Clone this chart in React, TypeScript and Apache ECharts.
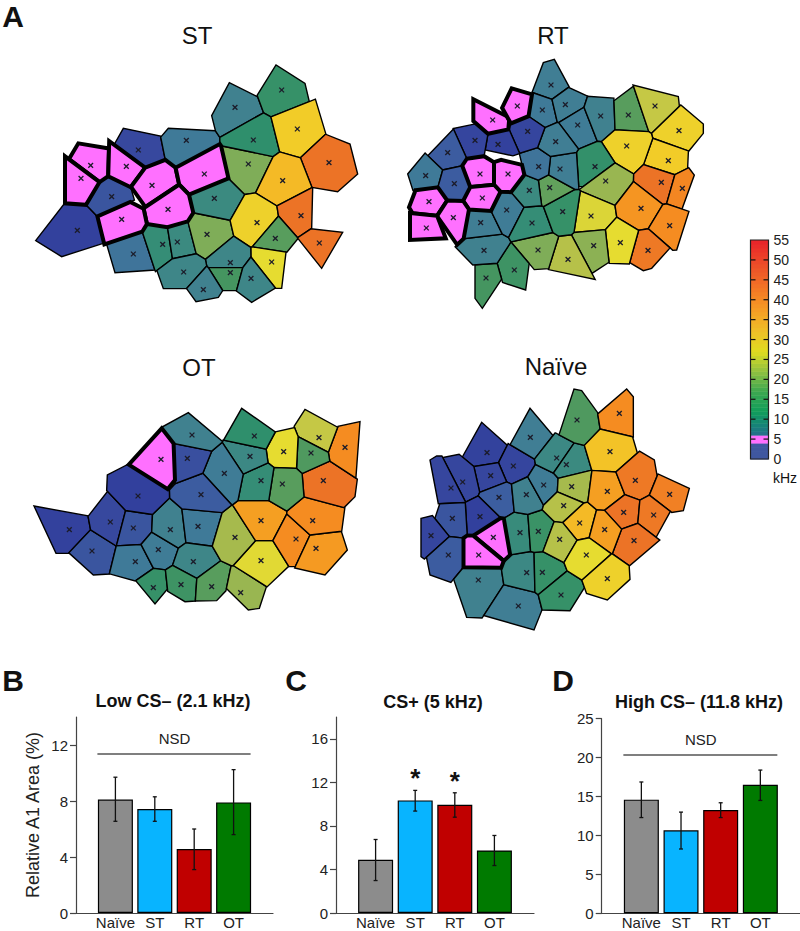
import React, { useEffect, useRef } from "react";
import * as echarts from "echarts";

const FONT = '"Liberation Sans", Arial, sans-serif';

const stCells = [
  [1, 172, 541, 47, 572, 130, 465, 195, 465, 232, 500, 250, 580, 125, 620],
  [3, 275, 440, 240, 392, 262, 382, 335, 420, 335, 450, 232, 495, 200, 462],
  [2, 355, 300, 310, 235, 420, 258, 430, 325, 370, 350, 280, 288],
  [6, 499, 271, 425, 258, 445, 235, 585, 242, 600, 280, 470, 350, 432, 325],
  [5.5, 340, 612, 262, 590, 370, 535, 405, 660, 285, 668],
  [11, 428, 583, 375, 532, 445, 535, 458, 625, 410, 660],
  [10, 472, 576, 445, 535, 505, 518, 525, 605, 458, 625],
  [20, 561, 553, 508, 490, 632, 515, 638, 548, 555, 625, 525, 605],
  [10, 583, 445, 515, 440, 612, 390, 672, 432, 632, 512, 512, 490],
  [20, 685, 342, 610, 292, 752, 320, 712, 432, 675, 432, 622, 385],
  [8, 645, 172, 628, 98, 708, 138, 728, 188, 600, 265, 582, 225, 575, 197],
  [13, 785, 120, 768, 45, 855, 100, 868, 155, 757, 200, 728, 188, 712, 135],
  [12, 700, 270, 600, 268, 728, 190, 755, 205, 778, 318, 610, 290],
  [31, 832, 237, 757, 203, 866, 155, 893, 170, 917, 250, 845, 322, 780, 308],
  [42, 927, 338, 845, 325, 915, 252, 990, 282, 1013, 372, 953, 425, 875, 412],
  [33, 788, 392, 718, 432, 770, 310, 843, 325, 873, 410, 773, 468],
  [30, 711, 518, 680, 435, 712, 432, 773, 470, 773, 495, 703, 592, 640, 555, 633, 512],
  [42, 843, 497, 775, 470, 878, 415, 875, 535, 835, 562, 775, 498],
  [42, 898, 579, 835, 567, 877, 537, 968, 547, 905, 655],
  [17, 766, 565, 775, 500, 832, 568, 802, 605, 705, 590],
  [28, 755, 636, 693, 592, 798, 607, 785, 715, 765, 715, 690, 622],
  [9, 631, 638, 558, 628, 638, 565, 692, 595, 692, 622, 668, 653, 568, 650],
  [9, 491, 666, 410, 660, 460, 625, 525, 612, 558, 630, 500, 716, 430, 716],
  [15, 631, 668, 565, 652, 668, 655, 648, 722, 608, 722],
  [8, 550, 719, 500, 716, 558, 650, 608, 722, 595, 742, 528, 755],
  [9, 693, 685, 668, 655, 692, 622, 765, 715, 695, 757, 648, 722],
  [5, 212, 346, 150, 322, 175, 280, 265, 295, 262, 375, 240, 392],
  [5, 183, 385, 135, 325, 240, 392, 195, 462, 135, 460],
  [5, 319, 349, 275, 290, 362, 350, 330, 405, 265, 378],
  [5, 396, 406, 370, 350, 432, 335, 465, 358, 485, 405, 372, 465, 340, 420],
  [5, 553, 372, 465, 355, 600, 290, 620, 385, 505, 425],
  [5, 444, 478, 378, 470, 475, 412, 505, 440, 515, 500, 475, 520, 430, 528, 380, 518],
  [5, 305, 508, 240, 495, 335, 458, 368, 475, 375, 530, 255, 580],
];

const rtCells = [
  [7, 468, 105, 412, 125, 445, 38, 478, 28, 525, 115, 482, 148],
  [6, 442, 180, 408, 128, 480, 148, 483, 222, 440, 260, 405, 200],
  [7, 511, 164, 482, 148, 527, 115, 570, 135, 568, 168, 485, 222],
  [6.5, 548, 225, 485, 222, 570, 170, 598, 268, 548, 320],
  [8, 617, 198, 570, 138, 665, 145, 655, 235, 618, 268, 598, 265],
  [17, 700, 195, 660, 150, 703, 118, 765, 250, 655, 235],
  [25, 780, 168, 703, 102, 850, 140, 852, 158, 768, 248],
  [30, 852, 242, 852, 160, 925, 222, 925, 250, 880, 305, 768, 278, 768, 248],
  [31, 820, 332, 768, 280, 880, 308, 878, 352, 842, 378, 745, 345],
  [30, 695, 288, 618, 268, 655, 238, 762, 252, 765, 275, 720, 367, 655, 340],
  [12.5, 600, 350, 548, 322, 600, 268, 620, 270, 655, 342, 565, 410, 545, 410],
  [22, 632, 393, 565, 412, 655, 345, 715, 372, 705, 400, 665, 495],
  [27, 588, 498, 545, 415, 663, 498, 638, 538, 528, 545],
  [42, 799, 397, 720, 368, 745, 348, 840, 378, 825, 463],
  [39, 862, 415, 845, 378, 885, 358, 898, 375, 860, 480, 828, 463],
  [37, 738, 475, 715, 378, 808, 465, 768, 530, 720, 530, 672, 498, 705, 405],
  [38, 824, 527, 808, 465, 880, 490, 845, 600, 815, 603, 768, 530],
  [41, 759, 601, 720, 532, 768, 532, 815, 605, 770, 655, 745, 662, 713, 643],
  [28, 676, 578, 665, 500, 720, 530, 712, 642, 640, 640, 637, 538],
  [21, 596, 587, 530, 545, 637, 538, 637, 640, 588, 672],
  [24, 519, 628, 482, 553, 530, 545, 585, 685, 490, 665, 478, 640],
  [20, 429, 600, 348, 572, 375, 560, 482, 553, 475, 655, 400, 660],
  [14, 358, 660, 347, 578, 400, 660, 392, 720, 315, 695],
  [15, 273, 684, 240, 655, 315, 643, 315, 695, 262, 775, 240, 745],
  [8, 267, 601, 180, 590, 205, 565, 320, 560, 345, 572, 315, 640, 240, 652],
  [7, 257, 518, 218, 485, 295, 480, 320, 558, 208, 562],
  [6.5, 335, 480, 305, 415, 365, 405, 385, 480, 350, 570, 325, 560, 295, 480],
  [11, 411, 519, 385, 485, 430, 465, 460, 478, 482, 553, 350, 565],
  [13, 503, 485, 460, 475, 513, 415, 540, 412, 528, 542, 482, 553],
  [18, 464, 413, 440, 398, 480, 388, 513, 412, 460, 475, 437, 462],
  [10, 403, 421, 380, 398, 438, 392, 437, 462, 387, 480, 360, 405],
  [7, 495, 357, 462, 302, 545, 322, 540, 408, 515, 410, 462, 385],
  [5.5, 431, 350, 395, 288, 428, 272, 458, 303, 460, 388, 440, 392, 380, 392, 382, 310],
  [7, 482, 275, 440, 268, 485, 230, 545, 268, 545, 320, 460, 300],
  [1.5, 398, 244, 328, 235, 395, 198, 440, 262, 392, 290],
  [1, 309, 283, 275, 272, 328, 240, 392, 290, 375, 322, 282, 302],
  [1.5, 240, 271, 162, 238, 225, 225, 270, 262, 275, 305, 222, 345],
  [3.5, 158, 308, 105, 310, 158, 255, 222, 310, 210, 350, 125, 335],
  [6, 92, 377, 38, 372, 88, 312, 125, 340, 125, 420, 55, 425],
  [3.5, 178, 401, 128, 338, 208, 352, 208, 420, 195, 440, 128, 430],
  [5, 293, 210, 235, 148, 318, 190, 315, 225, 272, 262, 235, 222],
  [5, 367, 168, 322, 172, 350, 115, 400, 130, 392, 198, 322, 208],
  [5, 255, 372, 215, 350, 272, 310, 290, 330, 292, 408, 213, 412],
  [5, 339, 372, 300, 325, 362, 340, 378, 380, 362, 405, 305, 410],
  [5, 262, 444, 212, 425, 295, 420, 292, 470, 218, 480],
  [5, 102, 455, 42, 472, 60, 425, 133, 422, 125, 490, 48, 482],
  [5, 175, 503, 140, 425, 195, 435, 212, 485, 205, 548, 180, 575, 145, 525],
  [5, 94, 534, 45, 497, 125, 495, 148, 565, 45, 570],
];

const otCells = [
  [1, 148, 389, 42, 318, 205, 348, 212, 390, 148, 460, 108, 460],
  [3, 216, 453, 148, 460, 210, 393, 290, 435, 270, 522, 220, 525],
  [2, 271, 366, 205, 348, 262, 275, 318, 332, 290, 435, 212, 390],
  [3, 340, 384, 318, 335, 398, 345, 395, 398, 362, 435, 290, 435],
  [6, 346, 485, 290, 437, 362, 435, 397, 510, 345, 543, 270, 522],
  [6.5, 415, 449, 365, 433, 397, 400, 470, 452, 460, 495, 430, 510, 398, 508],
  [8, 451, 389, 398, 345, 450, 300, 490, 330, 495, 432, 470, 452, 398, 400],
  [6, 534, 379, 490, 330, 600, 338, 577, 438, 497, 432],
  [9, 520, 485, 462, 495, 497, 435, 577, 438, 600, 480, 530, 532],
  [13, 400, 563, 348, 543, 400, 508, 438, 508, 440, 570, 405, 612],
  [14, 483, 554, 438, 505, 530, 532, 528, 603, 495, 605, 440, 572],
  [17, 575, 560, 528, 535, 600, 483, 633, 497, 622, 568, 590, 602, 530, 603],
  [22, 662, 578, 632, 500, 740, 558, 718, 625, 685, 630, 622, 568],
  [27.5, 723, 482, 645, 492, 703, 423, 760, 423, 805, 500, 745, 557],
  [23, 645, 412, 578, 438, 607, 345, 635, 318, 700, 420, 640, 492, 600, 482],
  [36, 723, 362, 640, 315, 655, 303, 748, 302, 800, 340, 760, 420, 705, 420],
  [38, 828, 417, 760, 420, 800, 345, 868, 405, 825, 500, 808, 500],
  [36.5, 888, 445, 870, 405, 965, 397, 982, 450, 915, 525, 828, 505],
  [38, 878, 362, 802, 340, 850, 295, 975, 320, 965, 395, 868, 402],
  [42, 910, 242, 848, 220, 930, 187, 1012, 237, 1005, 290, 975, 320, 850, 292],
  [38, 975, 142, 930, 185, 950, 80, 1020, 65, 1008, 230],
  [25, 897, 113, 825, 75, 855, 28, 950, 80, 928, 152, 835, 112],
  [16, 873, 159, 835, 115, 928, 155, 930, 185, 862, 218, 832, 203],
  [28, 791, 155, 742, 150, 768, 95, 825, 82, 835, 120, 832, 203, 762, 202],
  [17, 787, 252, 760, 203, 832, 205, 850, 225, 850, 295, 800, 332, 748, 302],
  [11, 723, 242, 680, 218, 745, 190, 760, 205, 748, 300, 655, 302],
  [9.5, 690, 169, 610, 122, 738, 147, 745, 188, 675, 218],
  [12, 703, 108, 612, 118, 665, 25, 765, 95, 740, 147],
  [6.5, 613, 220, 550, 218, 577, 150, 608, 125, 668, 215, 650, 300, 632, 312],
  [3.5, 543, 284, 450, 275, 548, 222, 625, 310, 605, 335, 490, 328],
  [2.5, 502, 175, 468, 130, 575, 150, 548, 218, 470, 245],
  [8, 516, 105, 428, 80, 505, 38, 605, 122, 575, 150, 465, 130],
  [0.8, 354, 288, 262, 225, 320, 195, 445, 270, 395, 340, 320, 330, 260, 270],
  [5, 423, 178, 330, 190, 425, 85, 458, 130, 465, 240, 445, 265],
];

const naiveCells = [
  [1.2, 231, 218, 162, 222, 215, 127, 282, 187, 270, 243, 198, 262],
  [1.5, 310, 258, 285, 188, 305, 187, 375, 245, 360, 290, 305, 315, 272, 245],
  [1.7, 242, 287, 198, 262, 270, 248, 280, 305, 215, 340, 205, 340],
  [1.7, 158, 306, 112, 230, 162, 220, 200, 265, 205, 340, 165, 365],
  [1.7, 123, 324, 60, 240, 80, 228, 112, 228, 162, 367, 85, 372],
  [3.7, 267, 352, 215, 342, 305, 308, 310, 395, 255, 405],
  [0.8, 210, 410, 170, 370, 215, 345, 255, 405, 200, 465, 170, 470],
  [3, 127, 415, 88, 375, 168, 370, 170, 465, 110, 470, 78, 405],
  [1.5, 63, 467, 33, 415, 75, 405, 108, 468, 50, 542, 33, 530],
  [3.5, 115, 525, 52, 545, 110, 472, 155, 472, 158, 565, 130, 610, 60, 585],
  [8, 205, 600, 135, 610, 158, 570, 275, 570, 278, 610, 235, 715, 170, 712],
  [7, 325, 678, 240, 712, 278, 610, 388, 652, 392, 700, 372, 750],
  [9.5, 350, 578, 280, 560, 300, 530, 372, 518, 375, 650, 282, 605],
  [13, 397, 577, 375, 518, 408, 515, 465, 560, 385, 650],
  [13, 453, 645, 392, 652, 465, 565, 522, 625, 480, 692, 395, 690],
  [10.5, 330, 458, 292, 400, 358, 392, 358, 515, 300, 525],
  [13.5, 385, 454, 358, 395, 400, 388, 427, 428, 410, 515, 360, 515],
  [8, 349, 344, 310, 318, 360, 290, 395, 380, 358, 390, 312, 395],
  [6.5, 401, 315, 362, 280, 375, 248, 442, 292, 440, 335, 405, 382],
  [7, 361, 172, 305, 185, 360, 85, 422, 158, 378, 240],
  [9.5, 440, 234, 385, 240, 422, 160, 450, 158, 482, 190, 445, 290],
  [10, 469, 254, 445, 290, 482, 192, 528, 198, 540, 265],
  [16, 501, 120, 450, 155, 492, 27, 515, 32, 563, 98, 565, 150, 528, 198],
  [38, 628, 100, 565, 100, 650, 27, 670, 50, 670, 175, 570, 145],
  [32, 600, 215, 530, 200, 570, 148, 670, 178, 678, 205, 625, 272, 542, 265],
  [23, 485, 320, 445, 295, 540, 270, 535, 358, 495, 367],
  [24, 461, 377, 405, 382, 440, 320, 505, 370, 472, 425, 430, 425],
  [33, 509, 429, 470, 430, 510, 378, 532, 365, 552, 390, 545, 470, 495, 480],
  [36, 592, 334, 542, 272, 625, 275, 637, 340, 595, 388, 552, 390],
  [41, 676, 301, 628, 272, 678, 207, 733, 240, 740, 280, 722, 340, 690, 362, 640, 340],
  [40, 779, 343, 740, 280, 838, 325, 820, 392, 780, 398, 725, 345],
  [42, 641, 397, 597, 392, 640, 345, 688, 365, 685, 425, 640, 448],
  [41, 731, 405, 690, 368, 725, 345, 778, 400, 735, 478, 685, 425],
  [42, 672, 482, 620, 518, 640, 450, 685, 428, 738, 490, 658, 558],
  [36, 584, 449, 550, 392, 595, 392, 632, 448, 612, 520, 590, 518, 548, 472],
  [24, 449, 478, 410, 515, 428, 425, 470, 432, 495, 483, 465, 555],
  [28, 529, 525, 468, 555, 498, 485, 545, 475, 587, 520, 525, 605],
  [30, 592, 596, 525, 607, 590, 525, 612, 522, 658, 565, 660, 598, 592, 660, 545, 645],
  [5, 250, 472, 205, 465, 280, 415, 300, 520, 275, 555],
  [5, 206, 525, 165, 475, 200, 470, 270, 555, 160, 560],
];

const cellStops = [
  [0, "#2E3A9C"], [2, "#37489E"], [4, "#3D62A0"], [6, "#3F7A98"], [8, "#40818F"], [10, "#3B8A80"],
  [12, "#2F8F6C"], [15, "#459560"], [18, "#62A15C"], [20, "#7FAD58"], [23, "#A6BA4D"], [25, "#C5C845"],
  [28, "#E6DC30"], [31, "#F2CC28"], [35, "#F5A823"], [38, "#F58C21"], [42, "#EC7326"], [48, "#E84E28"], [55, "#E3202A"],
] as [number, string][];
const barStops = [
  [0, "#3F57A0"], [4, "#3F57A0"], [6, "#2A6E8C"], [8, "#177F7C"], [12, "#109E5A"], [17, "#3DA850"], [22, "#90C040"],
  [27, "#E0DC20"], [32, "#EEC028"], [37, "#F5A025"], [42, "#F47C25"], [47, "#EE5A28"], [55, "#E8222A"],
] as [number, string][];
const MAGENTA = "#FF70FF";

const colorbarBands = Array.from({ length: 55 }, (_, i) => i);
const colorbarTicks = [0, 5, 10, 15, 20, 25, 30, 35, 40, 45, 50, 55];

const groupNames = ["Naïve", "ST", "RT", "OT"];
const categories = ["", ...groupNames, ""];
const barColors = ["#8C8C8C", "#08B4FF", "#C00000", "#007A00"];

const lowValues = [8.1, 7.43, 4.57, 7.9];
const lowErrLow = [6.55, 6.55, 3.1, 5.6];
const lowErrHigh = [9.7, 8.3, 6.0, 10.24];
const lowTicks = [0, 4, 8, 12];

const csValues = [4.88, 10.34, 9.94, 5.74];
const csErrLow = [2.98, 9.36, 8.8, 4.36];
const csErrHigh = [6.75, 11.26, 11.04, 7.12];
const csTicks = [0, 4, 8, 12, 16];
const csStars = [[2, 12.42], [3, 12.12]];

const highValues = [14.6, 10.66, 13.27, 16.5];
const highErrLow = [12.3, 8.26, 12.3, 14.5];
const highErrHigh = [16.87, 13.0, 14.2, 18.4];
const highTicks = [0, 5, 10, 15, 20, 25];

type P = number[];

// The maps are Voronoi cells around the crosses: neighbouring cells share the bisector of their two
// crosses, and only the outer edges keep the outline.
function clipHalf(poly: P[], a: number, b: number, c: number) {
  const out: P[] = [];
  for (let i = 0; i < poly.length; i++) {
    const p = poly[i];
    const q = poly[(i + 1) % poly.length];
    const dp = a * p[0] + b * p[1] - c;
    const dq = a * q[0] + b * q[1] - c;
    if (dp <= 0) out.push(p);
    if (dp < 0 !== dq < 0) {
      const t = dp / (dp - dq);
      out.push([p[0] + (q[0] - p[0]) * t, p[1] + (q[1] - p[1]) * t]);
    }
  }
  return out;
}
function outline(c: number[]) {
  const pts: P[] = [];
  for (let i = 3; i < c.length; i += 2) pts.push([c[i], c[i + 1]]);
  return pts;
}
function segDist(p: P, a: P, b: P) {
  const dx = b[0] - a[0];
  const dy = b[1] - a[1];
  const t = Math.max(0, Math.min(1, ((p[0] - a[0]) * dx + (p[1] - a[1]) * dy) / (dx * dx + dy * dy || 1)));
  return Math.hypot(p[0] - a[0] - t * dx, p[1] - a[1] - t * dy);
}
function tessellate(cells: number[][]) {
  const outlines = cells.map(outline);
  const OUTER_TOL = 16;
  const PUSH = 26;
  return cells.map((c, i) => {
    const s = [c[1], c[2]];
    let poly: P[] = [[-500, -500], [2000, -500], [2000, 2000], [-500, 2000]];
    cells.forEach((o, j) => {
      if (j === i) return;
      const a = o[1] - s[0];
      const b = o[2] - s[1];
      poly = clipHalf(poly, a, b, (a * (o[1] + s[0]) + b * (o[2] + s[1])) / 2);
    });
    const own = outlines[i];
    own.forEach((p, k) => {
      const q = own[(k + 1) % own.length];
      const m = [(p[0] + q[0]) / 2, (p[1] + q[1]) / 2];
      const tol = Math.min(OUTER_TOL, 0.45 * Math.hypot(q[0] - p[0], q[1] - p[1]));
      const isOuter = outlines.every((ol, j) => {
        if (j === i) return true;
        return ol.every((u, n) => segDist(m, u, ol[(n + 1) % ol.length]) > tol);
      });
      let nx = q[1] - p[1];
      let ny = p[0] - q[0];
      const len = Math.hypot(nx, ny) || 1;
      nx /= len;
      ny /= len;
      if (nx * (s[0] - p[0]) + ny * (s[1] - p[1]) > 0) {
        nx = -nx;
        ny = -ny;
      }
      const off = nx * p[0] + ny * p[1] + (isOuter ? 0 : PUSH);
      poly = clipHalf(poly, nx, ny, off);
    });
    return poly;
  });
}

function hex(c: string) {
  return [1, 3, 5].map((i) => parseInt(c.slice(i, i + 2), 16));
}
function colorAt(stops: [number, string][], f: number) {
  for (let i = 1; i < stops.length; i++) {
    if (f <= stops[i][0]) {
      const [a, ca] = stops[i - 1];
      const [b, cb] = stops[i];
      const t = (f - a) / (b - a);
      const A = hex(ca);
      const B = hex(cb);
      return `rgb(${A.map((v, k) => Math.round(v + (B[k] - v) * t)).join(",")})`;
    }
  }
  return stops[stops.length - 1][1];
}

const mapSeries = (cells: number[][], idx: number) => {
  const polys = tessellate(cells);
  return {
    type: "custom",
    xAxisIndex: idx,
    yAxisIndex: idx,
    clip: false,
    silent: true,
    data: cells.map((c) => [c[1], c[2], c[0]]),
    encode: { x: 0, y: 1 },
    renderItem: (params: any, api: any) => {
      const pts = polys[params.dataIndex].map((p) => api.coord(p));
      const [cx, cy] = api.coord([api.value(0), api.value(1)]);
      const hot = api.value(2) === 5;
      const r = 2.4;
      const cross = { stroke: "#1c1c2a", lineWidth: 1.3 };
      return {
        type: "group",
        children: [
          {
            type: "polygon",
            z2: hot ? 10 : 1,
            shape: { points: pts },
            style: {
              fill: hot ? MAGENTA : colorAt(cellStops, api.value(2)),
              stroke: "#000",
              lineWidth: hot ? 4 : 1.4,
              lineJoin: "miter",
            },
          },
          { type: "line", z2: 11, shape: { x1: cx - r, y1: cy - r, x2: cx + r, y2: cy + r }, style: cross },
          { type: "line", z2: 11, shape: { x1: cx - r, y1: cy + r, x2: cx + r, y2: cy - r }, style: cross },
        ],
      };
    },
  };
};

function barPanel(
  idx: number,
  values: number[],
  lo: number[],
  hi: number[],
  nsd: number | null,
  stars: number[][]
) {
  const out: any[] = [
    {
      type: "bar",
      xAxisIndex: idx,
      yAxisIndex: idx,
      barWidth: 35,
      silent: true,
      data: values.map((v, i) => ({
        value: [i + 1, v],
        itemStyle: { color: barColors[i], borderColor: "#000", borderWidth: 1.2 },
      })),
    },
    {
      type: "custom",
      xAxisIndex: idx,
      yAxisIndex: idx,
      silent: true,
      z: 5,
      data: values.map((_, i) => [i + 1, lo[i], hi[i]]),
      encode: { x: 0, y: [1, 2] },
      renderItem: (_p: any, api: any) => {
        const a = api.coord([api.value(0), api.value(1)]);
        const b = api.coord([api.value(0), api.value(2)]);
        const s = { stroke: "#111", lineWidth: 1.3 };
        return {
          type: "group",
          children: [
            { type: "line", shape: { x1: a[0], y1: a[1], x2: b[0], y2: b[1] }, style: s },
            { type: "line", shape: { x1: a[0] - 2, y1: a[1], x2: a[0] + 2, y2: a[1] }, style: s },
            { type: "line", shape: { x1: b[0] - 2, y1: b[1], x2: b[0] + 2, y2: b[1] }, style: s },
          ],
        };
      },
    },
  ];
  if (nsd !== null) {
    out.push({
      type: "custom",
      xAxisIndex: idx,
      yAxisIndex: idx,
      silent: true,
      data: [[1, nsd, 4]],
      encode: { x: [0, 2], y: 1 },
      renderItem: (_p: any, api: any) => {
        const a = api.coord([api.value(0), api.value(1)]);
        const b = api.coord([api.value(2), api.value(1)]);
        return {
          type: "group",
          children: [
            {
              type: "line",
              shape: { x1: a[0] - 18, y1: a[1], x2: b[0] + 17, y2: b[1] },
              style: { stroke: "#555", lineWidth: 1.5 },
            },
            {
              type: "text",
              x: (a[0] + b[0]) / 2,
              y: a[1] - 15,
              style: { text: "NSD", fontSize: 15, fontFamily: FONT, fill: "#222", align: "center", verticalAlign: "middle" },
            },
          ],
        };
      },
    });
  }
  if (stars.length) {
    out.push({
      type: "custom",
      xAxisIndex: idx,
      yAxisIndex: idx,
      silent: true,
      data: stars,
      encode: { x: 0, y: 1 },
      renderItem: (_p: any, api: any) => {
        const a = api.coord([api.value(0), api.value(1)]);
        return {
          type: "text",
          x: a[0],
          y: a[1],
          style: { text: "*", fontSize: 26, fontWeight: "bold", fontFamily: FONT, fill: "#111", align: "center", verticalAlign: "middle" },
        };
      },
    });
  }
  return out;
}

const label = (text: string, x: number, y: number, fontSize: number, bold = false) => ({
  type: "text",
  x,
  y,
  style: {
    text,
    fontSize,
    fontWeight: bold ? "bold" : "normal",
    fontFamily: FONT,
    fill: "#111",
    align: "center",
    verticalAlign: "middle",
  },
});

export default function App() {
  const ref = useRef<HTMLDivElement>(null);
  useEffect(() => {
    document.body.style.margin = "0";
    const chart = echarts.init(ref.current!, undefined, { renderer: "svg" });

    const mapGrids = [
      { left: 20, top: 50, width: 350, height: 270 },
      { left: 395, top: 50, width: 320, height: 270 },
      { left: 20, top: 400, width: 350, height: 230 },
      { left: 410, top: 380, width: 320, height: 260 },
    ];
    const cbGrid = { left: 750.5, top: 240, width: 18, height: 219 };
    const barGrids = [
      { left: 76, top: 717, width: 197, height: 196 },
      { left: 336, top: 717, width: 198, height: 196 },
      { left: 601.7, top: 718.7, width: 198.3, height: 194.6 },
    ];
    const axisCol = "#444";
    const barMax = [14, 18, 25];
    const barTicks = [lowTicks, csTicks, highTicks];

    const option: any = {
      animation: false,
      textStyle: { fontFamily: FONT },
      grid: [...mapGrids, cbGrid, ...barGrids].map((g) => ({ ...g, containLabel: false, outerBoundsMode: "none" })),
      xAxis: [
        ...mapGrids.map((g, i) => ({ type: "value", gridIndex: i, min: 0, max: g.width * 3, show: false })),
        { type: "value", gridIndex: 4, min: 0, max: 1, show: false },
        ...barGrids.map((_, i) => ({
          type: "category",
          gridIndex: 5 + i,
          boundaryGap: false,
          data: categories,
          axisTick: { show: false },
          axisLine: { lineStyle: { color: axisCol, width: 1.2 } },
          axisLabel: { interval: 0, fontSize: 15, color: "#222", margin: 2, fontFamily: FONT },
        })),
      ],
      yAxis: [
        ...mapGrids.map((g, i) => ({ type: "value", gridIndex: i, min: 0, max: g.height * 3, inverse: true, show: false })),
        {
          type: "value",
          gridIndex: 4,
          min: 0,
          max: 55,
          position: "right",
          splitLine: { show: false },
          axisLine: { show: false },
          axisTick: { show: false },
          axisLabel: { customValues: colorbarTicks, fontSize: 14, color: "#222", margin: 5, fontFamily: FONT },
        },
        ...barGrids.map((_, i) => ({
          type: "value",
          gridIndex: 5 + i,
          min: 0,
          max: barMax[i],
          splitLine: { show: false },
          axisLine: { show: true, onZero: false, lineStyle: { color: axisCol, width: 1.2 } },
          axisTick: { show: true, length: 6, customValues: barTicks[i], lineStyle: { color: axisCol, width: 1.2 } },
          axisLabel: { customValues: barTicks[i], fontSize: 15, color: "#222", margin: 8, fontFamily: FONT },
          ...(i === 0
            ? {
                name: "Relative A1 Area (%)",
                nameLocation: "middle",
                nameGap: 34,
                nameTextStyle: { fontSize: 18, color: "#222", fontFamily: FONT },
              }
            : {}),
        })),
      ],
      series: [
        mapSeries(stCells, 0),
        mapSeries(rtCells, 1),
        mapSeries(otCells, 2),
        mapSeries(naiveCells, 3),
        {
          type: "custom",
          xAxisIndex: 4,
          yAxisIndex: 4,
          silent: true,
          data: colorbarBands.map((f) => [0, f, 1, f + 1]),
          encode: { x: [0, 2], y: [1, 3] },
          renderItem: (_p: any, api: any) => {
            const a = api.coord([api.value(0), api.value(3)]);
            const b = api.coord([api.value(2), api.value(1)]);
            const f = api.value(1);
            return {
              type: "rect",
              shape: { x: a[0], y: a[1], width: b[0] - a[0], height: b[1] - a[1] + 0.5 },
              style: { fill: f >= 4 && f < 6 ? MAGENTA : colorAt(barStops, f + 0.5) },
            };
          },
        },
        {
          type: "custom",
          xAxisIndex: 4,
          yAxisIndex: 4,
          silent: true,
          z: 4,
          data: colorbarTicks.slice(1, -1).map((f) => [0, f, 1]),
          encode: { x: [0, 2], y: 1 },
          renderItem: (_p: any, api: any) => {
            const a = api.coord([api.value(0), api.value(1)]);
            const b = api.coord([api.value(2), api.value(1)]);
            const s = { stroke: "#111", lineWidth: 1.2 };
            return {
              type: "group",
              children: [
                { type: "line", shape: { x1: a[0], y1: a[1], x2: a[0] + 5, y2: a[1] }, style: s },
                { type: "line", shape: { x1: b[0] - 5, y1: b[1], x2: b[0], y2: b[1] }, style: s },
              ],
            };
          },
        },
        {
          type: "custom",
          xAxisIndex: 4,
          yAxisIndex: 4,
          silent: true,
          z: 5,
          data: [[0, 0, 1, 55]],
          encode: { x: [0, 2], y: [1, 3] },
          renderItem: (_p: any, api: any) => {
            const a = api.coord([api.value(0), api.value(3)]);
            const b = api.coord([api.value(2), api.value(1)]);
            return {
              type: "rect",
              shape: { x: a[0], y: a[1], width: b[0] - a[0], height: b[1] - a[1] },
              style: { fill: "none", stroke: "#222", lineWidth: 1.2 },
            };
          },
        },
        ...barPanel(5, lowValues, lowErrLow, lowErrHigh, 11.36, []),
        ...barPanel(6, csValues, csErrLow, csErrHigh, null, csStars),
        ...barPanel(7, highValues, highErrLow, highErrHigh, 20.35, []),
      ],
      graphic: [
        label("A", 13, 16, 30, true),
        label("B", 13, 680, 30, true),
        label("C", 296, 680, 30, true),
        label("D", 563, 680, 30, true),
        label("ST", 197, 35, 24),
        label("RT", 553, 35, 24),
        label("OT", 199, 367, 24),
        label("Naïve", 556, 366, 24),
        label("kHz", 785, 478, 14),
        label("Low CS– (2.1 kHz)", 173, 701, 18, true),
        label("CS+ (5 kHz)", 433, 702, 18, true),
        label("High CS– (11.8 kHz)", 699, 702, 18, true),
      ],
    };
    chart.setOption(option);
    return () => chart.dispose();
  }, []);
  return <div ref={ref} style={{ width: 800, height: 931 }} />;
}
